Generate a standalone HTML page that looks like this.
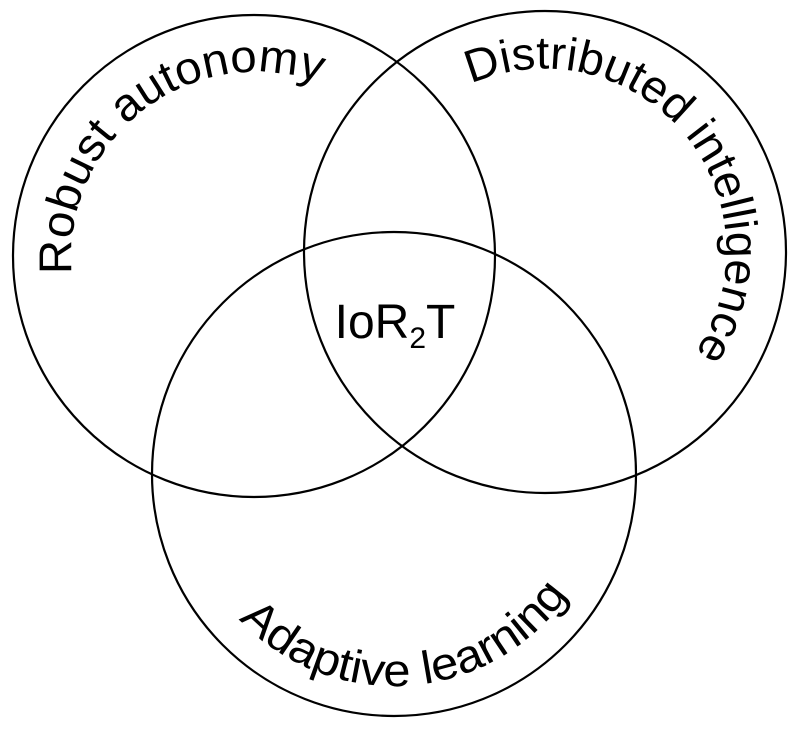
<!DOCTYPE html>
<html><head><meta charset="utf-8"><style>html,body{margin:0;padding:0;background:#fff}svg{display:block}</style></head>
<body>
<svg width="796" height="729" viewBox="0 0 796 729" xmlns="http://www.w3.org/2000/svg">
<defs>
<path id="pa" d="M 72 274 A 185 185 0 0 1 317.3 82.2"/>
<path id="pd" d="M 471 84 A 182 182 0 0 1 692 357"/>
<path id="pl" d="M 239 619 A 212 212 0 0 0 572 589"/>
</defs>
<g fill="none" stroke="#000" stroke-width="2.2">
<circle cx="254" cy="256" r="241"/>
<circle cx="545" cy="252" r="241"/>
<circle cx="394" cy="474" r="242"/>
</g>
<g font-family="Liberation Sans, sans-serif" font-size="46" fill="#000">
<text><textPath href="#pa" textLength="372" lengthAdjust="spacingAndGlyphs">Robust autonomy</textPath></text>
<text><textPath href="#pd" textLength="470" lengthAdjust="spacingAndGlyphs">Distributed intelligence</textPath></text>
<text><textPath href="#pl" textLength="378" lengthAdjust="spacingAndGlyphs">Adaptive learning</textPath></text>
<text x="395" y="338" text-anchor="middle" font-size="48">IoR<tspan font-size="30" dy="10">2</tspan><tspan dy="-10">T</tspan></text>
</g>
</svg>
</body></html>
